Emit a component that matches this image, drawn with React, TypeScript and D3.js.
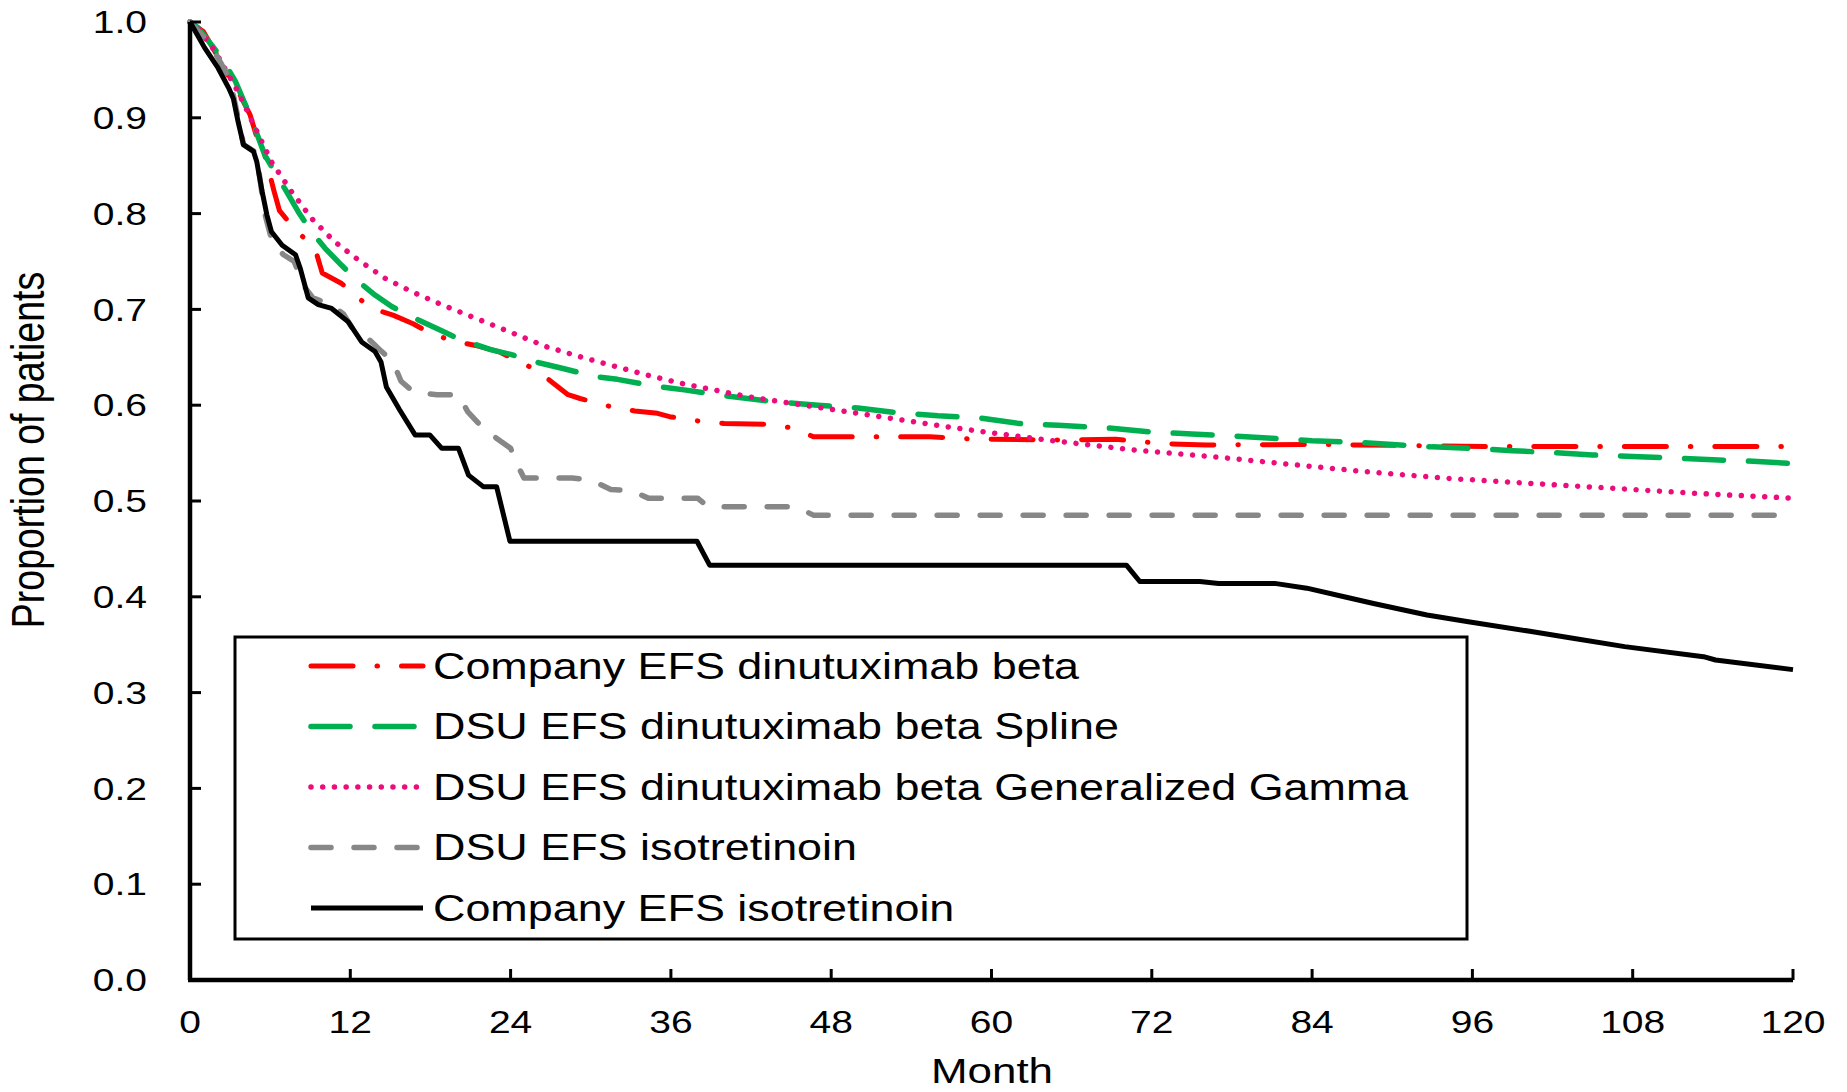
import React from "react";
import * as d3 from "d3";

// Event-free survival curves, month vs proportion of patients
const companyDinutuximab: [number, number][] = [
  [0, 1], [1, 0.99], [2, 0.966], [3, 0.94], [3.7, 0.925], [4.5, 0.903], [5.0, 0.88], [5.6, 0.861],
  [6.3, 0.823], [6.7, 0.803], [7.6, 0.788], [8.5, 0.775], [9.5, 0.757], [9.9, 0.738], [11.35, 0.727],
  [12.5, 0.713], [13.6, 0.701], [15.2, 0.694], [16.7, 0.685], [18, 0.675], [19.7, 0.667], [21.5, 0.662],
  [23.1, 0.656], [25.9, 0.637], [27.2, 0.623], [28.3, 0.611], [29.2, 0.607], [31.5, 0.5985], [33.3, 0.594],
  [35, 0.5915], [35.9, 0.588], [38.3, 0.583], [40, 0.581], [43.6, 0.58], [45.1, 0.576], [46.7, 0.567],
  [55.4, 0.567], [58.8, 0.5645], [65.8, 0.5637], [69.3, 0.5645], [72.6, 0.56], [76.1, 0.5585],
  [84.4, 0.559], [96.9, 0.557], [120, 0.557],
];

const dsuSpline: [number, number][] = [
  [0, 1], [0.6, 0.994], [2.4, 0.962], [3.4, 0.938], [4.6, 0.899], [5.6, 0.861], [7.1, 0.826], [8.1, 0.802],
  [9.1, 0.781], [10.1, 0.764], [11.35, 0.746], [12.6, 0.729], [13.85, 0.715], [15.1, 0.703], [17.1, 0.689],
  [18.8, 0.678], [20, 0.67], [22.5, 0.658], [24, 0.653], [26.2, 0.644], [28, 0.638], [30.3, 0.63],
  [32, 0.627], [34.7, 0.62], [37, 0.616], [40, 0.61], [43.5, 0.604], [47, 0.6], [50, 0.597], [53, 0.592],
  [56, 0.589], [59, 0.587], [62, 0.581], [65, 0.579], [69, 0.576], [72, 0.572], [75, 0.57], [78, 0.568],
  [81, 0.5655], [84, 0.563], [87, 0.5615], [90, 0.559], [93, 0.5565], [96, 0.555], [99, 0.5525],
  [102, 0.5505], [105, 0.548], [108, 0.5465], [111, 0.545], [114, 0.543], [117, 0.5415], [120, 0.539],
];

const dsuGenGamma: [number, number][] = [
  [0, 1], [0.4, 0.997], [1.9, 0.969], [3.6, 0.927], [4.9, 0.889], [6.1, 0.854], [7.6, 0.823], [9.1, 0.795],
  [10.8, 0.771], [12.6, 0.7516], [14.6, 0.7325], [16.6, 0.7185], [19, 0.704], [21.7, 0.689], [24.2, 0.675],
  [26.7, 0.661], [29.2, 0.6506], [31.7, 0.641], [34.2, 0.6315], [36.7, 0.623], [39.2, 0.616], [41.7, 0.609],
  [44.5, 0.603], [50.75, 0.59], [57.4, 0.576], [64.1, 0.5637], [70.8, 0.553], [77.5, 0.545], [82.8, 0.5376],
  [88, 0.5306], [94.1, 0.5237], [100.3, 0.5184], [106.5, 0.5133], [112.7, 0.508], [120, 0.503],
];

const dsuIsotretinoin: [number, number][] = [
  [0, 1], [1, 0.985], [2, 0.965], [3, 0.94], [3.6, 0.9], [4, 0.872], [4.8, 0.865], [5.2, 0.84], [5.6, 0.8],
  [6.2, 0.768], [7, 0.757], [7.8, 0.75], [8.5, 0.725], [9.2, 0.712], [10.6, 0.705], [11.5, 0.695],
  [12.3, 0.677], [13.3, 0.67], [14.2, 0.658], [15.2, 0.645], [15.8, 0.625], [16.8, 0.613], [18.5, 0.611],
  [20.1, 0.611], [20.8, 0.593], [21.8, 0.578], [22.8, 0.567], [24, 0.555], [24.5, 0.538], [25, 0.524],
  [28.6, 0.524], [30, 0.522], [31.5, 0.512], [33, 0.511], [34.3, 0.503], [38, 0.503], [38.8, 0.494],
  [45.4, 0.494], [46.7, 0.485], [120, 0.485],
];

const companyIsotretinoin: [number, number][] = [
  [0, 1], [1.1, 0.973], [2.1, 0.952], [2.9, 0.931], [3.25, 0.92], [3.6, 0.896], [4, 0.872], [4.75, 0.865],
  [5, 0.854], [5.4, 0.823], [5.75, 0.799], [6.1, 0.781], [6.9, 0.767], [7.9, 0.757], [8.25, 0.743],
  [8.85, 0.712], [9.6, 0.705], [10.6, 0.701], [11.85, 0.687], [12.85, 0.666], [13.85, 0.656], [14.3, 0.645],
  [14.7, 0.619], [15.7, 0.595], [16.85, 0.569], [17.95, 0.569], [18.85, 0.555], [20.1, 0.555], [20.85, 0.527],
  [21.95, 0.515], [22.95, 0.515], [23.95, 0.458], [37.95, 0.458], [38.9, 0.433], [70.1, 0.433], [71.1, 0.416],
  [75.6, 0.416], [77, 0.414], [81.2, 0.414], [83.6, 0.409], [86.4, 0.4], [88.6, 0.393], [92.6, 0.381],
  [95.7, 0.374], [100.3, 0.364], [103.4, 0.357], [107.4, 0.348], [113.3, 0.3375], [114.2, 0.334], [120, 0.324],
];

const seriesNames = [
  "Company EFS dinutuximab beta",
  "DSU EFS dinutuximab beta Spline",
  "DSU EFS dinutuximab beta Generalized Gamma",
  "DSU EFS isotretinoin",
  "Company EFS isotretinoin",
];

const xTicks = [0, 12, 24, 36, 48, 60, 72, 84, 96, 108, 120];
const yTicks = [0, 0.1, 0.2, 0.3, 0.4, 0.5, 0.6, 0.7, 0.8, 0.9, 1.0];

const W = 1847;
const H = 1092;
const FONT = "'Liberation Sans', Arial, Helvetica, sans-serif";
const STRETCH = 1.22;

const styles = [
  { color: "#ff0000", width: 5, dash: "42,24,0.5,24" },
  { color: "#00b050", width: 5.5, dash: "39,25" },
  { color: "#ec0c7c", width: 5.5, dash: "0.01,11.7" },
  { color: "#878787", width: 5.5, dash: "20,23" },
  { color: "#000000", width: 5, dash: "none" },
];

export default function App() {
  const x = d3.scaleLinear().domain([0, 120]).range([190, 1793]);
  const y = d3.scaleLinear().domain([0, 1]).range([980, 22]);
  const line = d3
    .line<[number, number]>()
    .x((d) => x(d[0]))
    .y((d) => y(d[1]));

  const series = [companyDinutuximab, dsuSpline, dsuGenGamma, dsuIsotretinoin, companyIsotretinoin];

  const legend = { x: 235, y: 637, w: 1232, h: 302, sampleX0: 311, sampleX1: 423, textX: 433, row0: 666, rowStep: 60.5 };

  return (
    <svg
      width={W}
      height={H}
      style={{ position: "absolute", left: 0, top: 0, background: "#fff" }}
      fontFamily={FONT}
    >
      <rect x={0} y={0} width={W} height={H} fill="#fff" />

      {/* curves */}
      {series.map((s, i) => (
        <path
          key={i}
          d={line(s) || ""}
          fill="none"
          stroke={styles[i].color}
          strokeWidth={styles[i].width}
          strokeDasharray={styles[i].dash}
          strokeLinecap={styles[i].dash === "none" ? "butt" : "round"}
          strokeLinejoin="round"
        />
      ))}

      {/* axes */}
      <line x1={x(0)} y1={y(1)} x2={x(0)} y2={y(0)} stroke="#000" strokeWidth={4.5} />
      <line x1={x(0) - 2} y1={y(0)} x2={x(120)} y2={y(0)} stroke="#000" strokeWidth={4.5} />
      {yTicks.map((t) => (
        <g key={"y" + t}>
          <line x1={x(0)} x2={x(0) + 11} y1={y(t)} y2={y(t)} stroke="#000" strokeWidth={3} />
          <text
            transform={`translate(147,${y(t)}) scale(${STRETCH},1)`}
            textAnchor="end"
            dy="0.35em"
            fontSize={32}
            fill="#000"
          >
            {t.toFixed(1)}
          </text>
        </g>
      ))}
      {xTicks.map((t) => (
        <g key={"x" + t}>
          <line x1={x(t)} x2={x(t)} y1={y(0)} y2={y(0) - 11} stroke="#000" strokeWidth={3} />
          <text
            transform={`translate(${x(t)},1033) scale(${STRETCH},1)`}
            textAnchor="middle"
            fontSize={32}
            fill="#000"
          >
            {t}
          </text>
        </g>
      ))}

      {/* axis titles */}
      <text transform={`translate(992,1083) scale(${STRETCH},1)`} textAnchor="middle" fontSize={36} fill="#000">
        Month
      </text>
      <text
        transform={`translate(44,450) scale(${STRETCH},1) rotate(-90)`}
        textAnchor="middle"
        fontSize={37.5}
        fill="#000"
      >
        Proportion of patients
      </text>

      {/* legend */}
      <rect x={legend.x} y={legend.y} width={legend.w} height={legend.h} fill="#fff" stroke="#000" strokeWidth={3} />
      {seriesNames.map((name, i) => {
        const cy = legend.row0 + i * legend.rowStep;
        return (
          <g key={name}>
            <line
              x1={legend.sampleX0}
              x2={legend.sampleX1}
              y1={cy}
              y2={cy}
              stroke={styles[i].color}
              strokeWidth={styles[i].width}
              strokeDasharray={styles[i].dash}
              strokeLinecap={styles[i].dash === "none" ? "butt" : "round"}
            />
            <text
              transform={`translate(${legend.textX},${cy}) scale(${STRETCH},1)`}
              dy="0.35em"
              fontSize={36.8}
              fill="#000"
            >
              {name}
            </text>
          </g>
        );
      })}
    </svg>
  );
}
